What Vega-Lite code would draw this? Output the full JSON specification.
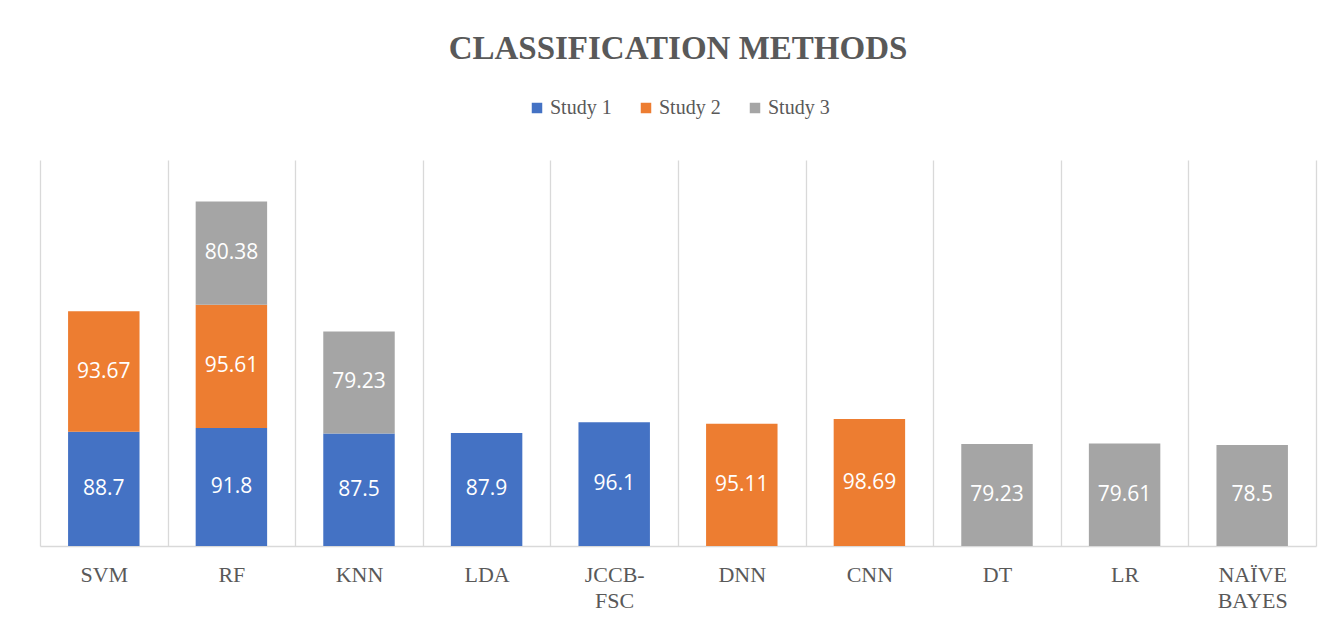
{
  "$schema": "https://vega.github.io/schema/vega-lite/v6.json",
  "width": 1276,
  "height": 386,
  "autosize": {"type": "none"},
  "padding": {"left": 40, "top": 160, "right": 20, "bottom": 78},
  "background": "white",
  "title": {
    "text": "CLASSIFICATION METHODS",
    "font": "Liberation Serif",
    "fontSize": 33,
    "fontWeight": "bold",
    "color": "#595959",
    "anchor": "middle",
    "offset": 32
  },
  "data": {
    "values": [
      {"method": "SVM", "study": "Study 1", "value": 88.7},
      {"method": "SVM", "study": "Study 2", "value": 93.67},
      {"method": "RF", "study": "Study 1", "value": 91.8},
      {"method": "RF", "study": "Study 2", "value": 95.61},
      {"method": "RF", "study": "Study 3", "value": 80.38},
      {"method": "KNN", "study": "Study 1", "value": 87.5},
      {"method": "KNN", "study": "Study 3", "value": 79.23},
      {"method": "LDA", "study": "Study 1", "value": 87.9},
      {"method": "JCCB-FSC", "study": "Study 1", "value": 96.1},
      {"method": "DNN", "study": "Study 2", "value": 95.11},
      {"method": "CNN", "study": "Study 2", "value": 98.69},
      {"method": "DT", "study": "Study 3", "value": 79.23},
      {"method": "LR", "study": "Study 3", "value": 79.61},
      {"method": "NAÏVE BAYES", "study": "Study 3", "value": 78.5}
    ]
  },
  "encoding": {
    "x": {
      "field": "method",
      "type": "nominal",
      "sort": null,
      "scale": {"paddingInner": 0, "paddingOuter": 0},
      "axis": {
        "title": null,
        "labelAngle": 0,
        "labelFont": "Liberation Serif",
        "labelFontSize": 22,
        "labelColor": "#595959",
        "labelPadding": 18,
        "labelLineHeight": 26,
        "labelExpr": "datum.label == 'JCCB-FSC' ? ['JCCB-', 'FSC'] : datum.label == 'NAÏVE BAYES' ? ['NAÏVE', 'BAYES'] : datum.label",
        "ticks": false,
        "domainColor": "#D9D9D9",
        "domainWidth": 1.5,
        "grid": true,
        "gridColor": "#D9D9D9",
        "gridWidth": 1.3,
        "tickBand": "extent"
      }
    }
  },
  "layer": [
    {
      "mark": {"type": "bar", "width": {"band": 0.56}},
      "encoding": {
        "y": {
          "field": "value",
          "type": "quantitative",
          "stack": "zero",
          "scale": {"domain": [0, 300]},
          "axis": null
        },
        "order": {"field": "study", "type": "ordinal", "sort": "ascending"},
        "color": {
          "field": "study",
          "type": "nominal",
          "scale": {
            "domain": ["Study 1", "Study 2", "Study 3"],
            "range": ["#4472C4", "#ED7D31", "#A5A5A5"]
          },
          "legend": {
            "title": null,
            "orient": "none",
            "legendX": 487,
            "legendY": -62,
            "direction": "horizontal",
            "symbolType": "square",
            "symbolSize": 110,
            "symbolStrokeWidth": 0,
            "labelFont": "Liberation Serif",
            "labelFontSize": 20,
            "labelColor": "#595959",
            "columnPadding": 24,
            "symbolOffset": 0,
            "labelOffset": 3
          }
        }
      }
    },
    {
      "transform": [
        {"stack": "value", "groupby": ["method"], "sort": [{"field": "study"}], "as": ["v0", "v1"]},
        {"calculate": "(datum.v0 + datum.v1) / 2", "as": "mid"}
      ],
      "mark": {"type": "text", "color": "white", "font": "Open Sans", "fontSize": 21, "baseline": "middle"},
      "encoding": {
        "y": {"field": "mid", "type": "quantitative"},
        "text": {"field": "value", "type": "nominal"}
      }
    }
  ],
  "config": {"view": {"stroke": null}}
}
